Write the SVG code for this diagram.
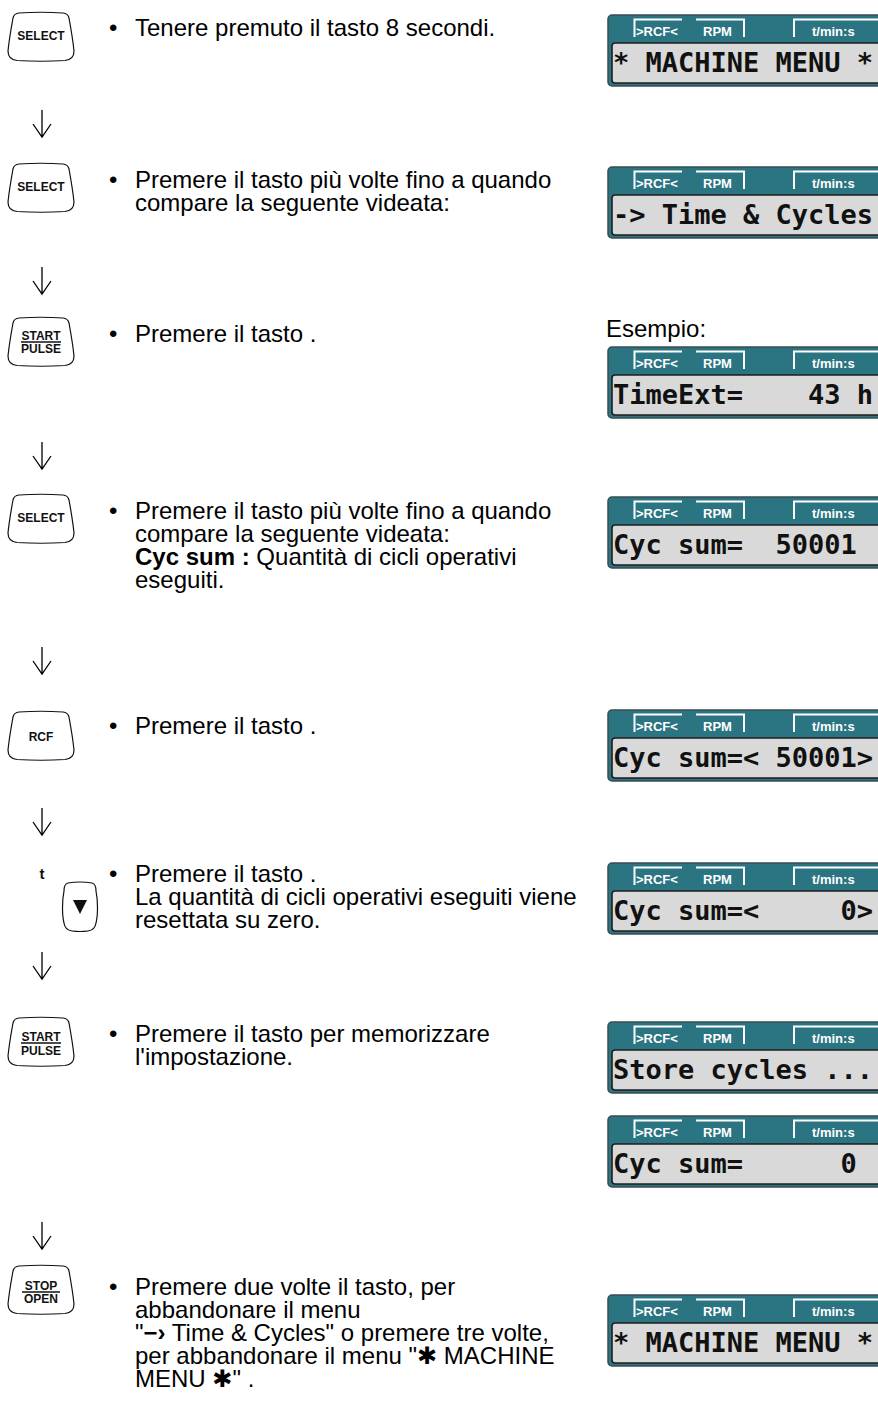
<svg xmlns="http://www.w3.org/2000/svg" xmlns:xlink="http://www.w3.org/1999/xlink" width="878" height="1401" viewBox="0 0 878 1401">
<style>
.t{font-family:"Liberation Sans",Arial,sans-serif;font-size:24px;fill:#000}
.b{font-weight:bold}
.k{font-family:"Liberation Sans",Arial,sans-serif;font-size:12px;font-weight:bold;fill:#111;text-anchor:middle}
.lbl{font-family:"Liberation Sans",Arial,sans-serif;font-size:13px;font-weight:bold;fill:#fff}
.lcd{font-family:"DejaVu Sans Mono","Liberation Mono",monospace;font-size:27px;font-weight:bold;fill:#111}
.key{fill:#fff;stroke:#111;stroke-width:1.2}
.arr{fill:none;stroke:#000;stroke-width:1.3}
.sym{font-family:"DejaVu Sans",sans-serif;font-weight:bold}
</style>
<defs>
<path id="keyShape" class="key" d="M11,0 Q33,-1.5 55,0 Q60,0.5 61,5 C63,16 65,28 66,38 Q66,46.5 57,47.5 Q33,49 9,47.5 Q0,46.5 0,38 C1,28 3,16 5,5 Q6,0.5 11,0 Z"/>
<g id="lcdFrame">
<rect x="608" y="0" width="300" height="71" rx="4" fill="#2b7482" stroke="#3a4c52" stroke-width="1.5"/>
<path d="M634.5,22 V4.5 H682 M696,4.5 H744 V22 M794,22 V4.5 H900" fill="none" stroke="#fff" stroke-width="2"/>
<text class="lbl" x="636" y="21">&gt;RCF&lt;</text>
<text class="lbl" x="703" y="21">RPM</text>
<text class="lbl" x="812" y="21">t/min:s</text>
<rect x="612" y="28" width="300" height="40" rx="3" fill="#d9d9d9" stroke="#1e1e1e" stroke-width="1.6"/>
</g>
</defs>

<g id="connectors">
<path class="arr" d="M42,110 V137 M33,124 L42,137 L51,124"/>
<path class="arr" d="M42,267 V294 M33,281 L42,294 L51,281"/>
<path class="arr" d="M42,442 V469 M33,456 L42,469 L51,456"/>
<path class="arr" d="M42,647 V674 M33,661 L42,674 L51,661"/>
<path class="arr" d="M42,808 V835 M33,822 L42,835 L51,822"/>
<path class="arr" d="M42,952 V979 M33,966 L42,979 L51,966"/>
<path class="arr" d="M42,1222 V1249 M33,1236 L42,1249 L51,1236"/>
</g>

<g id="step1">
<use xlink:href="#keyShape" transform="translate(8,13)"/>
<text class="k" x="41" y="40">SELECT</text>
<text class="t" x="109" y="36">•</text>
<text class="t" x="135" y="36">Tenere premuto il tasto 8 secondi.</text>
</g>
<g id="lcd1">
<use xlink:href="#lcdFrame" y="15"/>
<text class="lcd" x="613" y="71.5">* MACHINE MENU *</text>
</g>

<g id="step2">
<use xlink:href="#keyShape" transform="translate(8,164)"/>
<text class="k" x="41" y="191">SELECT</text>
<text class="t" x="109" y="188">•</text>
<text class="t" x="135" y="188">Premere il tasto più volte fino a quando</text>
<text class="t" x="135" y="211">compare la seguente videata:</text>
</g>
<g id="lcd2">
<use xlink:href="#lcdFrame" y="167"/>
<text class="lcd" x="613" y="223.5">-&gt; Time &amp; Cycles</text>
</g>

<g id="step3">
<use xlink:href="#keyShape" transform="translate(8,318)"/>
<text class="k" x="41" y="340">START</text>
<path d="M21,342 H61" stroke="#111" stroke-width="1.5"/>
<text class="k" x="41" y="353">PULSE</text>
<text class="t" x="109" y="342">•</text>
<text class="t" x="135" y="342">Premere il tasto .</text>
<text class="t" x="606" y="337">Esempio:</text>
</g>
<g id="lcd3">
<use xlink:href="#lcdFrame" y="347"/>
<text class="lcd" x="613" y="403.5">TimeExt=</text>
<text class="lcd" x="808" y="403.5">43 h</text>
</g>

<g id="step4">
<use xlink:href="#keyShape" transform="translate(8,495)"/>
<text class="k" x="41" y="522">SELECT</text>
<text class="t" x="109" y="519">•</text>
<text class="t" x="135" y="519">Premere il tasto più volte fino a quando</text>
<text class="t" x="135" y="542">compare la seguente videata:</text>
<text class="t" x="135" y="565"><tspan class="b">Cyc sum :</tspan> Quantità di cicli operativi</text>
<text class="t" x="135" y="588">eseguiti.</text>
</g>
<g id="lcd4">
<use xlink:href="#lcdFrame" y="497"/>
<text class="lcd" x="613" y="553.5">Cyc sum=</text>
<text class="lcd" x="775.5" y="553.5">50001</text>
</g>

<g id="step5">
<use xlink:href="#keyShape" transform="translate(8,712)"/>
<text class="k" x="41" y="741">RCF</text>
<text class="t" x="109" y="734">•</text>
<text class="t" x="135" y="734">Premere il tasto .</text>
</g>
<g id="lcd5">
<use xlink:href="#lcdFrame" y="710"/>
<text class="lcd" x="613" y="766.5">Cyc sum=&lt;</text>
<text class="lcd" x="775.5" y="766.5">50001&gt;</text>
</g>

<g id="step6">
<text class="k" x="42" y="879" style="font-size:15px">t</text>
<path class="key" d="M68,883 Q80,881 92,883 Q96,884 96,891 C98,901 98,915 96,923 Q95,930 88,931 Q80,932 72,931 Q65,930 64,923 C62,915 62,901 64,891 Q64,884 68,883 Z"/>
<path d="M73,900 H87 L80,914 Z" fill="#111"/>
<text class="t" x="109" y="882">•</text>
<text class="t" x="135" y="882">Premere il tasto .</text>
<text class="t" x="135" y="905">La quantità di cicli operativi eseguiti viene</text>
<text class="t" x="135" y="928">resettata su zero.</text>
</g>
<g id="lcd6">
<use xlink:href="#lcdFrame" y="863"/>
<text class="lcd" x="613" y="919.5">Cyc sum=&lt;</text>
<text class="lcd" x="840.5" y="919.5">0&gt;</text>
</g>

<g id="step7">
<use xlink:href="#keyShape" transform="translate(8,1018)"/>
<text class="k" x="41" y="1041">START</text>
<path d="M21,1043 H61" stroke="#111" stroke-width="1.5"/>
<text class="k" x="41" y="1055">PULSE</text>
<text class="t" x="109" y="1042">•</text>
<text class="t" x="135" y="1042">Premere il tasto per memorizzare</text>
<text class="t" x="135" y="1065">l'impostazione.</text>
</g>
<g id="lcd7">
<use xlink:href="#lcdFrame" y="1022"/>
<text class="lcd" x="613" y="1078.5">Store cycles ...</text>
</g>
<g id="lcd8">
<use xlink:href="#lcdFrame" y="1116"/>
<text class="lcd" x="613" y="1172.5">Cyc sum=</text>
<text class="lcd" x="840.5" y="1172.5">0</text>
</g>

<g id="step8">
<use xlink:href="#keyShape" transform="translate(8,1266)"/>
<text class="k" x="41" y="1290">STOP</text>
<path d="M22,1292 H60" stroke="#111" stroke-width="1.5"/>
<text class="k" x="41" y="1303">OPEN</text>
<text class="t" x="109" y="1295">•</text>
<text class="t" x="135" y="1295">Premere due volte il tasto, per</text>
<text class="t" x="135" y="1318">abbandonare il menu</text>
<text class="t" x="135" y="1341">"<tspan class="b">−›</tspan> Time &amp; Cycles" o premere tre volte,</text>
<text class="t" x="135" y="1364">per abbandonare il menu "<tspan class="sym">✱</tspan> MACHINE</text>
<text class="t" x="135" y="1387">MENU <tspan class="sym">✱</tspan>" .</text>
</g>
<g id="lcd9">
<use xlink:href="#lcdFrame" y="1295"/>
<text class="lcd" x="613" y="1351.5">* MACHINE MENU *</text>
</g>
</svg>
